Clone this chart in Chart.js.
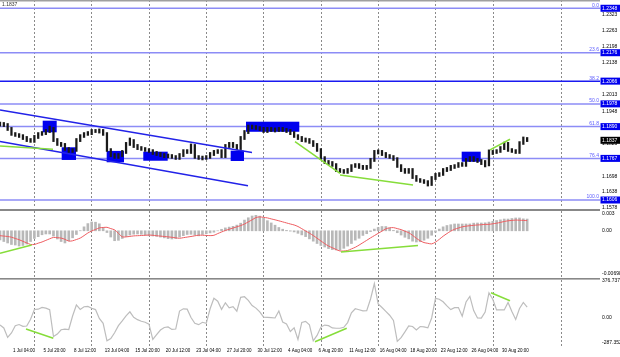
<!DOCTYPE html>
<html><head><meta charset="utf-8">
<script src="https://cdn.jsdelivr.net/npm/chart.js@4.4.1/dist/chart.umd.min.js"></script>
<style>
html,body{margin:0;padding:0;background:#fff;}
#wrap{position:relative;width:620px;height:357px;overflow:hidden;background:#fff;}
canvas{position:absolute;left:0;}
</style></head><body>
<div id="wrap">
<canvas id="cPrice" style="top:0px" width="620" height="216"></canvas>
<canvas id="cMacd" style="top:200px" width="620" height="88"></canvas>
<canvas id="cCci" style="top:270px" width="620" height="87"></canvas>
</div>
<script>
// ---------- DATA (x = sample index, one sample = two H4 bars) ----------
const xLabels = ['1 Jul 04:00','5 Jul 20:00','8 Jul 12:00','13 Jul 04:00','15 Jul 20:00','20 Jul 12:00','23 Jul 04:00','27 Jul 20:00','30 Jul 12:00','4 Aug 04:00','6 Aug 20:00','11 Aug 12:00','16 Aug 04:00','18 Aug 20:00','23 Aug 12:00','26 Aug 04:00','30 Aug 20:00'];
const firstLabelIdx = 3.4, labelStep = 8;
const weekGridIdx = [9.08, 24.08, 39.08, 54.08, 69.08, 84.08, 99.08, 114.08, 129.08, 147.04];

const highs = [1.1908,1.1906,1.1902,1.1887,1.1867,1.1863,1.1859,1.1852,1.1844,1.1856,
1.1867,1.1871,1.1879,1.1892,1.1887,1.1844,1.1829,1.1825,1.1809,1.1805,
1.1844,1.1859,1.1867,1.1871,1.1879,1.1879,1.1881,1.1879,1.1867,1.1805,
1.1786,1.1786,1.1798,1.1829,1.1846,1.1840,1.1821,1.1813,1.1809,1.1805,
1.1801,1.1794,1.1790,1.1786,1.1784,1.1782,1.1778,1.1786,1.1801,1.1801,
1.1823,1.1821,1.1778,1.1776,1.1778,1.1790,1.1798,1.1801,1.1801,1.1821,
1.1829,1.1829,1.1821,1.1852,1.1875,1.1896,1.1896,1.1894,1.1890,1.1887,
1.1887,1.1887,1.1885,1.1887,1.1887,1.1883,1.1879,1.1871,1.1859,1.1852,
1.1846,1.1844,1.1836,1.1825,1.1805,1.1774,1.1759,1.1755,1.1747,1.1728,
1.1724,1.1728,1.1743,1.1747,1.1747,1.1740,1.1740,1.1767,1.1798,1.1800,
1.1798,1.1790,1.1782,1.1778,1.1770,1.1743,1.1728,1.1728,1.1728,1.1701,
1.1689,1.1685,1.1681,1.1697,1.1709,1.1712,1.1728,1.1732,1.1740,1.1743,
1.1751,1.1751,1.1767,1.1774,1.1774,1.1767,1.1763,1.1759,1.1800,1.1798,
1.1801,1.1813,1.1830,1.1829,1.1805,1.1801,1.1832,1.1850,1.1848];
const lows = [1.1892,1.1890,1.1875,1.1856,1.1852,1.1848,1.1840,1.1832,1.1829,1.1829,
1.1844,1.1856,1.1859,1.1867,1.1832,1.1817,1.1813,1.1798,1.1790,1.1790,
1.1794,1.1832,1.1848,1.1856,1.1859,1.1867,1.1865,1.1856,1.1794,1.1774,
1.1767,1.1767,1.1774,1.1786,1.1817,1.1809,1.1801,1.1798,1.1794,1.1790,
1.1782,1.1778,1.1774,1.1770,1.1769,1.1767,1.1763,1.1763,1.1774,1.1786,
1.1786,1.1767,1.1763,1.1761,1.1763,1.1767,1.1778,1.1786,1.1770,1.1770,
1.1809,1.1809,1.1800,1.1801,1.1840,1.1863,1.1881,1.1879,1.1875,1.1867,
1.1867,1.1871,1.1869,1.1871,1.1871,1.1867,1.1859,1.1848,1.1840,1.1832,
1.1830,1.1825,1.1813,1.1794,1.1763,1.1747,1.1743,1.1736,1.1716,1.1712,
1.1709,1.1709,1.1716,1.1732,1.1728,1.1724,1.1724,1.1728,1.1755,1.1784,
1.1778,1.1770,1.1767,1.1759,1.1732,1.1716,1.1709,1.1709,1.1689,1.1678,
1.1674,1.1670,1.1660,1.1662,1.1685,1.1697,1.1701,1.1716,1.1720,1.1728,
1.1732,1.1736,1.1736,1.1755,1.1755,1.1751,1.1743,1.1734,1.1738,1.1782,
1.1786,1.1790,1.1801,1.1794,1.1790,1.1786,1.1786,1.1821,1.1832];

const fibLevels = [1.2348, 1.2176, 1.2066, 1.1978, 1.1890, 1.1767, 1.1606];
const fibNames  = ['0.0','23.6','38.2','50.0','61.8','76.4','100.0'];
const priceTicks = [1.2323, 1.2263, 1.2198, 1.2138, 1.2013, 1.1948, 1.1823, 1.1762, 1.1698, 1.1638, 1.1578];
const lastPrice = 1.1837;

const channelUpper = [[0, 1.1954], [65.97, 1.1790]];
const channelLower = [[0, 1.1832], [64.92, 1.1661]];
const priceGreen = [
  [[0, 1.1815], [13.87, 1.1802]],
  [[77.23, 1.1832], [89.01, 1.1709]],
  [[89.01, 1.1703], [108.12, 1.1664]],
  [[128.27, 1.1800], [133.51, 1.1841]]
];
// zones: [fromIdx, toIdx, topPrice, bottomPrice]
const zones = [
  [11.18, 14.84, 1.1913, 1.1868],
  [16.15, 19.90, 1.1810, 1.1761],
  [27.93, 32.46, 1.1796, 1.1752],
  [37.51, 43.90, 1.1793, 1.1758],
  [60.39, 63.87, 1.1797, 1.1757],
  [64.40, 78.35, 1.1909, 1.1870],
  [120.86, 125.84, 1.1793, 1.1754]
];

const macdHist = [-0.00139,-0.00162,-0.00184,-0.00207,-0.00215,-0.00230,-0.00222,-0.00200,-0.00162,-0.00116,
-0.00089,-0.00060,-0.00048,-0.00048,-0.00079,-0.00124,-0.00162,-0.00184,-0.00150,-0.00106,
-0.00056,0.00002,0.00060,0.00109,0.00133,0.00130,0.00106,0.00042,-0.00026,-0.00094,
-0.00150,-0.00144,-0.00116,-0.00086,-0.00064,-0.00051,-0.00048,-0.00053,-0.00064,-0.00076,
-0.00079,-0.00085,-0.00095,-0.00107,-0.00119,-0.00124,-0.00118,-0.00095,-0.00073,-0.00056,
-0.00053,-0.00064,-0.00076,-0.00056,-0.00044,-0.00032,-0.00021,0.00000,0.00023,0.00044,
0.00056,0.00068,0.00086,0.00115,0.00162,0.00197,0.00224,0.00234,0.00222,0.00189,
0.00153,0.00119,0.00085,0.00050,0.00024,0.00006,-0.00005,-0.00017,-0.00038,-0.00062,
-0.00088,-0.00122,-0.00157,-0.00192,-0.00222,-0.00245,-0.00269,-0.00284,-0.00290,-0.00290,
-0.00265,-0.00231,-0.00192,-0.00141,-0.00113,-0.00070,-0.00044,-0.00012,0.00026,0.00050,
0.00065,0.00065,0.00041,0.00006,-0.00029,-0.00064,-0.00098,-0.00122,-0.00157,-0.00169,
-0.00165,-0.00142,-0.00113,-0.00067,-0.00021,0.00026,0.00060,0.00080,0.00092,0.00103,
0.00103,0.00103,0.00103,0.00104,0.00116,0.00118,0.00118,0.00121,0.00132,0.00144,
0.00156,0.00166,0.00178,0.00178,0.00186,0.00194,0.00194,0.00181,0.00178];
const macdSignal = [-0.00074,-0.00080,-0.00086,-0.00097,-0.00116,-0.00135,-0.00159,-0.00183,-0.00206,-0.00207,
-0.00187,-0.00169,-0.00145,-0.00121,-0.00100,-0.00104,-0.00110,-0.00129,-0.00156,-0.00151,
-0.00132,-0.00110,-0.00073,-0.00033,-0.00003,0.00020,0.00044,0.00050,0.00053,0.00033,
0.00014,-0.00038,-0.00091,-0.00092,-0.00085,-0.00077,-0.00074,-0.00071,-0.00068,-0.00064,
-0.00068,-0.00074,-0.00080,-0.00086,-0.00092,-0.00098,-0.00106,-0.00113,-0.00104,-0.00095,
-0.00086,-0.00076,-0.00067,-0.00067,-0.00070,-0.00073,-0.00068,-0.00042,-0.00018,0.00005,
0.00024,0.00042,0.00060,0.00079,0.00103,0.00135,0.00166,0.00200,0.00210,0.00203,
0.00195,0.00180,0.00166,0.00151,0.00135,0.00119,0.00103,0.00088,0.00065,0.00032,
-0.00002,-0.00036,-0.00071,-0.00112,-0.00153,-0.00194,-0.00230,-0.00256,-0.00283,-0.00305,
-0.00305,-0.00298,-0.00274,-0.00249,-0.00216,-0.00180,-0.00144,-0.00107,-0.00073,-0.00038,
-0.00005,0.00029,0.00045,0.00048,0.00033,0.00018,-0.00006,-0.00029,-0.00068,-0.00113,
-0.00151,-0.00178,-0.00189,-0.00198,-0.00171,-0.00129,-0.00082,-0.00042,-0.00005,0.00023,
0.00042,0.00060,0.00070,0.00077,0.00083,0.00088,0.00092,0.00097,0.00098,0.00106,
0.00115,0.00127,0.00141,0.00151,0.00157,0.00162,0.00160,0.00157,0.00154];
const macdGreen = [
  [[0, -0.00340], [8.30, -0.00215]],
  [[89.27, -0.00321], [109.42, -0.00224]]
];
const macdTicks = [0.003, 0, -0.00698];
const macdTickLabels = ['0.003', '0.00', '-0.00698'];

const cci = [-78,-108,-205,-159,-85,-73,-91,-88,-19,81,
84,102,95,78,-195,-170,-126,-120,-124,14,
127,81,109,112,94,80,-10,-60,-240,-217,
-157,-84,-36,16,57,1,-23,-39,-50,-69,
-225,-176,-129,-103,-97,-123,-119,65,88,84,
-1,-61,-74,-50,-61,88,195,166,82,149,
98,109,63,205,211,174,121,95,56,2,
0,-2,-6,65,-47,-67,-144,-106,-225,-52,
-41,-76,-240,-184,-99,-78,-84,-108,-111,-111,
-101,-53,47,88,78,66,69,188,345,137,
101,62,22,-31,-245,-207,-148,-86,-93,-128,
-93,-97,-107,-6,195,186,160,117,80,99,
100,12,157,215,70,-6,-8,55,250,185,
76,76,76,152,60,-21,91,153,106];
const cciGreen = [
  [[6.81, -118.5], [13.95, -213.5]],
  [[82.46, -248.3], [90.76, -111.4]],
  [[128.53, 252.4], [133.51, 170.6]]
];
const cciTicks = [376.7378, 0, -287.352];
const cciTickLabels = ['376.7378', '0.00', '-287.352'];

// ---------- SCALE RANGES ----------
const XMAX = 157.07;
const PRICE_MIN = 1.157504, PRICE_MAX = 1.2380;
const MACD_MIN = -0.007137, MACD_MAX = 0.002994;
const CCI_MIN = -292.2, CCI_MAX = 382.1;

// ---------- STYLE ----------
const FONT = "'Liberation Sans', Arial, sans-serif";
const BLUE = '#0000ee', FIB = '#8c8cf6', FIB_STRONG = '#1a1af0', GREEN = '#86dd3a';

const idx = highs.map((_, i) => i);
const seg = (pts, color, w) => ({type:'line', data: pts.map(([x, y]) => ({x, y})), borderColor: color,
  borderWidth: w, pointRadius: 0, fill: false, tension: 0});

const fixW = s => { s.width = 20; s.paddingTop = 0; s.paddingBottom = 0; };
const fixH0 = s => { s.height = 0; s.paddingLeft = 0; s.paddingRight = 0; };

function xAxes(withLabels) {
  return {
    x: {type:'linear', min:0, max:XMAX, bounds:'data', offset:false, display: withLabels,
        grid:{display:false, offset:false, drawTicks:false}, border:{display:false},
        afterBuildTicks: s => { s.ticks = xLabels.map((_, i) => ({value: firstLabelIdx + i * labelStep})); },
        ticks:{autoSkip:false, maxRotation:0, minRotation:0, align:'start', padding:2,
               font:{size:4.5, family:FONT}, color:'#000', callback:(v, i) => xLabels[i]},
        afterFit: s => { s.height = withLabels ? 11 : 0; s.paddingLeft = 0; s.paddingRight = 0; }},
    x2: {type:'linear', min:0, max:XMAX, bounds:'data', offset:false, position:'bottom',
        grid:{display:true, offset:false, drawTicks:false, color:'#8a8a8a', lineWidth:1},
        border:{display:false, dash:[2,2]},
        afterBuildTicks: s => { s.ticks = weekGridIdx.map(v => ({value:v})); },
        ticks:{display:false}, afterFit: fixH0}
  };
}
function edgeLabel(labels) {
  return (v, i) => i === 0 ? ['', labels[i]] : (i === labels.length - 1 ? [labels[i], ''] : labels[i]);
}
const base = (padTop, padBottom) => ({
  responsive:false, maintainAspectRatio:false, animation:false, devicePixelRatio:1, events:[],
  layout:{padding:{top:padTop, bottom:padBottom, left:0, right:0}, autoPadding:false},
  plugins:{legend:{display:false}, tooltip:{enabled:false}}
});

// ---------- PRICE CHART ----------
const highlight = {};
fibLevels.forEach(v => highlight[v.toFixed(4)] = BLUE);
highlight[lastPrice.toFixed(4)] = '#000';
const hl = c => highlight[c.tick.value.toFixed(4)];

const zonePlugin = {
  id:'zones',
  beforeDatasetDraw(chart, args) {
    if (args.meta.type !== 'bar') return;
    const {ctx, chartArea:a, scales:{x, y}} = chart;
    ctx.save(); ctx.beginPath(); ctx.rect(a.left, a.top, a.width, a.height); ctx.clip();
    ctx.fillStyle = BLUE;
    zones.forEach(([x0, x1, p0, p1]) => {
      const X0 = x.getPixelForValue(x0), X1 = x.getPixelForValue(x1);
      const Y0 = y.getPixelForValue(p0), Y1 = y.getPixelForValue(p1);
      ctx.fillRect(X0, Y0, X1 - X0, Y1 - Y0);
    });
    ctx.restore();
  },
  afterDatasetsDraw(chart) {
    const {ctx, chartArea:a, scales:{y}} = chart;
    ctx.save();
    ctx.font = '5px ' + FONT; ctx.fillStyle = '#5a5aff'; ctx.textAlign = 'right'; ctx.textBaseline = 'bottom';
    fibLevels.forEach((v, i) => ctx.fillText(fibNames[i], a.right - 1, y.getPixelForValue(v) - 0.5));
    ctx.fillStyle = '#a0a0a0'; ctx.fillRect(0, 0, a.right, 1.5);
    ctx.font = '5px ' + FONT; ctx.fillStyle = '#333'; ctx.textAlign = 'left'; ctx.textBaseline = 'middle';
    ctx.fillText(lastPrice.toFixed(4), 2, 5);
    ctx.restore();
  }
};

new Chart(document.getElementById('cPrice'), {
  type:'bar',
  data:{datasets:[
    ...priceGreen.map(p => seg(p, GREEN, 1.5)),
    seg(channelUpper, '#2222e8', 1.5),
    seg(channelLower, '#2222e8', 1.5),
    {type:'bar', data: idx.map(i => ({x:i, y:[lows[i], highs[i]]})), backgroundColor:'#1a1a1a',
     barThickness:1.6, minBarLength:1, grouped:false},
    ...fibLevels.map((v, i) => seg([[0, v], [XMAX, v]], i === 2 ? FIB_STRONG : FIB, 1.5))
  ]},
  options:{...base(0, 8),
    scales:{...xAxes(false),
      y:{type:'linear', position:'right', min:PRICE_MIN, max:PRICE_MAX, bounds:'data', beginAtZero:false,
         grid:{display:false, drawTicks:false}, border:{display:false},
         afterBuildTicks: s => { s.ticks = [...priceTicks, ...fibLevels, lastPrice].map(v => ({value:v})); },
         ticks:{autoSkip:false, padding:2, font:{size:5, family:FONT},
                callback: v => v.toFixed(4),
                color: c => hl(c) ? '#fff' : '#000',
                showLabelBackdrop: c => !!hl(c),
                backdropColor: c => hl(c) || 'rgba(0,0,0,0)',
                backdropPadding:{left:1.5, right:6, top:0.5, bottom:0.5}},
         afterFit: fixW}
    }},
  plugins:[zonePlugin]
});

// ---------- MACD CHART ----------
const sepPlugin = {
  id:'sep',
  afterDraw(chart) {
    const {ctx, chartArea:a} = chart;
    ctx.save(); ctx.fillStyle = '#888';
    ctx.fillRect(0, a.top - 2, a.right, 2);
    ctx.fillRect(0, a.bottom, a.right, 1.6);
    ctx.restore();
  }
};
new Chart(document.getElementById('cMacd'), {
  type:'bar',
  data:{datasets:[
    ...macdGreen.map(p => seg(p, GREEN, 1.5)),
    {type:'line', data: idx.map(i => ({x:i, y:macdSignal[i]})), borderColor:'#ee5c60', borderWidth:1,
     pointRadius:0, tension:0.3, fill:false},
    {type:'bar', data: idx.map(i => ({x:i, y:macdHist[i]})), backgroundColor:'#b8b8b8', barThickness:2}
  ]},
  options:{...base(11, 10),
    scales:{...xAxes(false),
      y:{type:'linear', position:'right', min:MACD_MIN, max:MACD_MAX, bounds:'data', beginAtZero:false,
         grid:{display:false, drawTicks:false}, border:{display:false},
         afterBuildTicks: s => { s.ticks = macdTicks.map(v => ({value:v})); },
         ticks:{autoSkip:false, padding:2, font:{size:5, family:FONT}, color:'#000',
                callback: edgeLabel(macdTickLabels)},
         afterFit: fixW}
    }},
  plugins:[sepPlugin]
});

// ---------- CCI CHART ----------
new Chart(document.getElementById('cCci'), {
  type:'line',
  data:{datasets:[
    ...cciGreen.map(p => seg(p, GREEN, 1.5)),
    {type:'line', data: idx.map(i => ({x:i, y:cci[i]})), borderColor:'#bdbdbd', borderWidth:1.2,
     pointRadius:0, tension:0, fill:false}
  ]},
  options:{...base(10, 0),
    scales:{...xAxes(true),
      y:{type:'linear', position:'right', min:CCI_MIN, max:CCI_MAX, bounds:'data', beginAtZero:false,
         grid:{display:false, drawTicks:false}, border:{display:false},
         afterBuildTicks: s => { s.ticks = cciTicks.map(v => ({value:v})); },
         ticks:{autoSkip:false, padding:2, font:{size:5, family:FONT}, color:'#000',
                callback: (v, i) => i === cciTicks.length - 1 ? [cciTickLabels[i], ''] : cciTickLabels[i]},
         afterFit: fixW}
    }}
});
</script>
</body></html>
